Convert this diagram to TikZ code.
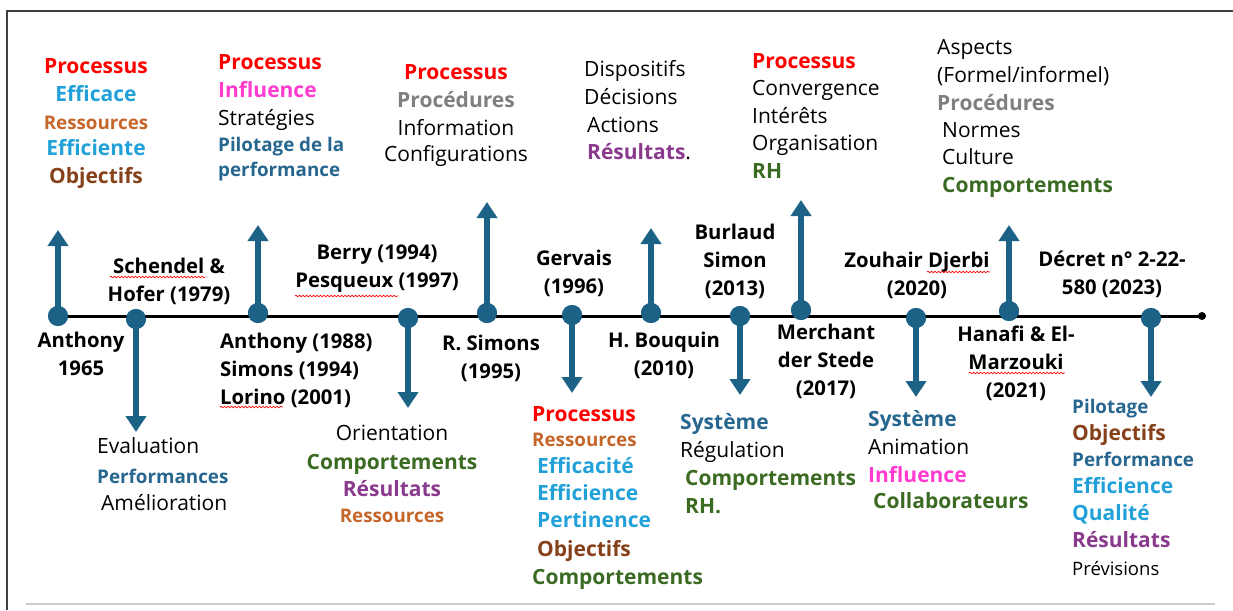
\documentclass[tikz,border=0pt]{standalone}
\usepackage{fontspec}
\setmainfont{Open Sans}
\usetikzlibrary{arrows.meta,decorations.pathmorphing}
\definecolor{cLine}{HTML}{1C6287}
\definecolor{cRed}{HTML}{FF0000}
\definecolor{cSky}{HTML}{21A1D8}
\definecolor{cRust}{HTML}{C5662A}
\definecolor{cBrown}{HTML}{86401A}
\definecolor{cMag}{HTML}{FF3CCF}
\definecolor{cSteel}{HTML}{26668F}
\definecolor{cGray}{HTML}{7F7F7F}
\definecolor{cPurple}{HTML}{8A3A8C}
\definecolor{cGreen}{HTML}{3B6B22}
\tikzset{
  stem/.style={line width=6pt, draw=cLine, -{Triangle[width=20pt,length=16pt]}},
  dot/.style={circle, fill=cLine, minimum size=20pt, inner sep=0pt},
  who/.style={font=\fontsize{20.3}{28}\selectfont\bfseries, align=center, inner sep=0pt},
  word/.style={inner sep=0pt, text height=16pt, text depth=2.5pt},
  reg/.style={word, font=\fontsize{21}{24}\selectfont},
  sreg/.style={word, font=\fontsize{18.5}{22}\selectfont},
  kw/.style={word, font=\fontsize{21}{24}\selectfont\bfseries},
  skw/.style={word, font=\fontsize{18.8}{22}\selectfont\bfseries},
  kred/.style={kw, text=cRed},
  ksky/.style={kw, text=cSky},
  kbrown/.style={kw, text=cBrown},
  kmag/.style={kw, text=cMag},
  ksteel/.style={kw, text=cSteel},
  kgray/.style={kw, text=cGray},
  kpurple/.style={kw, text=cPurple},
  kgreen/.style={kw, text=cGreen},
  ksrust/.style={skw, text=cRust},
  kssteel/.style={skw, text=cSteel},
  squig/.style={draw=red, line width=0.7pt, decorate, decoration={snake, amplitude=0.8pt, segment length=3.5pt}}
}

\begin{document}
\begin{tikzpicture}[x=1pt, y=-1pt]
  \useasboundingbox (0,0) rectangle (1233,610);

  %%%%% FRAME %%%%%
  \draw[line width=2pt, draw=black!75] (7,610) -- (7,11) -- (1233,11);
  \draw[line width=2pt, draw=black!20] (26,604) -- (1215,604);

  %%%%% TIMELINE %%%%%
  \node[dot] (d1) at (58,316) {};
  \node[dot] (d2) at (136,319) {};
  \node[dot] (d3) at (258,313) {};
  \node[dot] (d4) at (408,318) {};
  \node[dot] (d5) at (487,313) {};
  \node[dot] (d6) at (572,315) {};
  \node[dot] (d7) at (651,313) {};
  \node[dot] (d8) at (740,316) {};
  \node[dot] (d9) at (801,310) {};
  \node[dot] (d10) at (916,318) {};
  \node[dot] (d11) at (1009,311) {};
  \node[dot] (d12) at (1151,318) {};
  \node[circle, fill=black, minimum size=8pt, inner sep=0pt] (dend) at (1202,316) {};
  \draw[line width=3pt] (d1.center) -- (dend.center);

  \coordinate (t1) at (58,230);
  \coordinate (t2) at (136,432);
  \coordinate (t3) at (258,225);
  \coordinate (t4) at (408,408);
  \coordinate (t5) at (487,202);
  \coordinate (t6) at (572,393);
  \coordinate (t7) at (651,228);
  \coordinate (t8) at (740,395);
  \coordinate (t9) at (801,200);
  \coordinate (t10) at (916,397);
  \coordinate (t11) at (1009,225);
  \coordinate (t12) at (1151,397);
  \foreach \i in {1,...,12}
    \draw[stem] (d\i.center) -- (t\i);
  \foreach \i in {1,...,12}
    \node[dot] at (d\i) {};

  %%%%% AUTHORS %%%%%
  \node[who] (a1) at (81,353.5) {Anthony\\1965};
  \node[who] (a2) at (169,281.5) {Schendel \&\\Hofer (1979)};
  \node[who, align=left, anchor=west] (a3) at (220,370) {Anthony (1988)\\Simons (1994)\\Lorino (2001)};
  \node[who] (a4) at (377,269) {Berry (1994)\\Pesqueux (1997)};
  \node[who] (a5) at (491,358) {R. Simons\\(1995)};
  \node[who] (a6) at (574,273) {Gervais\\(1996)};
  \node[who] (a7) at (664,355) {H. Bouquin\\(2010)};
  \node[who] (a8) at (735,261.5) {Burlaud\\Simon\\(2013)};
  \node[who] (a9) at (826,361.5) {Merchant\\der Stede\\(2017)};
  \node[who] (a10) at (917,275.5) {Zouhair Djerbi\\(2020)};
  \node[who] (a11) at (1016,363.5) {Hanafi \& El-\\Marzouki\\(2021)};
  \node[who] (a12) at (1112,274) {Décret n° 2-22-\\580 (2023)};

  % spell-check marks
  \draw[squig] (110,277) -- (205,277);
  \draw[squig] (295,296) -- (398,296);
  \draw[squig] (220,407) -- (283,407);
  \draw[squig] (927,272) -- (990,272);
  \draw[squig] (969,373) -- (1065,373);

  %%%%% KEYWORDS ABOVE %%%%%
  \foreach \t/\s/\yy [count=\i] in {Processus/kred/67, Efficace/ksky/95, Ressources/ksrust/123, Efficiente/ksky/149, Objectifs/kbrown/177}
    \node[\s] (u1-\i) at (96,\yy) {\t};
  \foreach \t/\s/\yy [count=\i] in {Processus/kred/63, Influence/kmag/91, Stratégies/reg/119, Pilotage de la/kssteel/145, performance/kssteel/170}
    \node[\s, anchor=west] (u2-\i) at (218,\yy) {\t};
  \foreach \t/\s/\yy [count=\i] in {Processus/kred/73, Procédures/kgray/101, Information/reg/129, Configurations/reg/155}
    \node[\s] (u3-\i) at (456,\yy) {\t};
  \foreach \t/\s/\xx/\yy [count=\i] in {Dispositifs/reg/584/70, Décisions/reg/584/98, Actions/reg/587/126, {\textcolor{cPurple}{\bfseries Résultats}.}/reg/587/153}
    \node[\s, anchor=west] (u4-\i) at (\xx,\yy) {\t};
  \foreach \t/\s/\yy [count=\i] in {Processus/kred/62, Convergence/reg/89, Intérêts/reg/117, Organisation/reg/144, RH/kgreen/172}
    \node[\s, anchor=west] (u5-\i) at (752,\yy) {\t};
  \foreach \t/\s/\xx/\yy [count=\i] in {Aspects/reg/937/48, {(Formel/informel)}/reg/937/76, Procédures/kgray/937/104, Normes/reg/942/131, Culture/reg/942/158, Comportements/kgreen/942/186}
    \node[\s, anchor=west] (u6-\i) at (\xx,\yy) {\t};

  %%%%% KEYWORDS BELOW %%%%%
  \foreach \t/\s/\xx/\yy [count=\i] in {Evaluation/reg/97/447, Performances/kssteel/97/477, Amélioration/reg/101/504}
    \node[\s, anchor=west] (b1-\i) at (\xx,\yy) {\t};
  \foreach \t/\s/\yy [count=\i] in {Orientation/reg/434, Comportements/kgreen/463, Résultats/kpurple/490, Ressources/ksrust/516}
    \node[\s] (b2-\i) at (392,\yy) {\t};
  \foreach \t/\s/\xx/\yy [count=\i] in {Processus/kred/532/415, Ressources/ksrust/532/440, Efficacité/ksky/537/467, Efficience/ksky/537/494, Pertinence/ksky/537/521, Objectifs/kbrown/537/550, Comportements/kgreen/532/578}
    \node[\s, anchor=west] (b3-\i) at (\xx,\yy) {\t};
  \foreach \t/\s/\xx/\yy [count=\i] in {Système/ksteel/680/423, Régulation/reg/680/451, Comportements/kgreen/685/479, RH./kgreen/685/507}
    \node[\s, anchor=west] (b4-\i) at (\xx,\yy) {\t};
  \foreach \t/\s/\xx/\yy [count=\i] in {Système/ksteel/868/420, Animation/reg/868/448, Influence/kmag/868/476, Collaborateurs/kgreen/873/502}
    \node[\s, anchor=west] (b5-\i) at (\xx,\yy) {\t};
  \foreach \t/\s/\yy [count=\i] in {Pilotage/kssteel/407, Objectifs/kbrown/434, Performance/kssteel/460, Efficience/ksky/487, Qualité/ksky/514, Résultats/kpurple/541, Prévisions/sreg/569}
    \node[\s, anchor=west] (b6-\i) at (1072,\yy) {\t};
\end{tikzpicture}
\end{document}
